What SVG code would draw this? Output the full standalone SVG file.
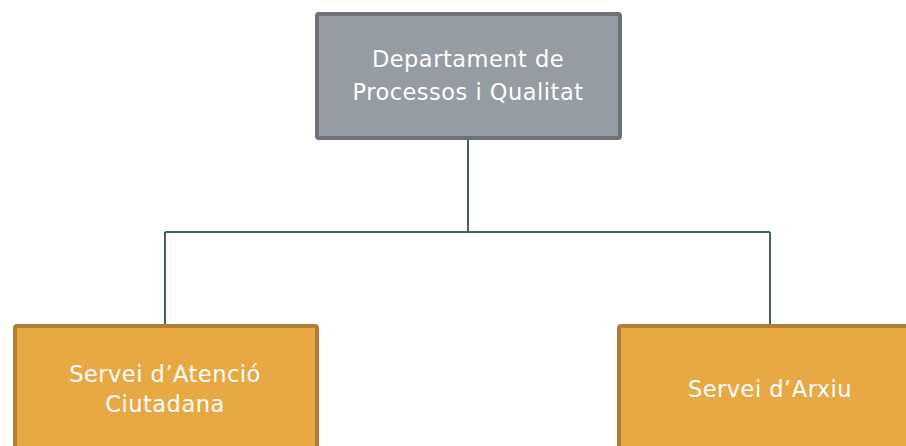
<svg xmlns="http://www.w3.org/2000/svg" width="906" height="446" viewBox="0 0 906 446">
<style>
.lbl{font-family:"DejaVu Sans",sans-serif;font-size:22.5px;letter-spacing:0.5px;fill:#ffffff;text-anchor:middle}
.conn{stroke:#3d6657;stroke-width:2;fill:none}
.top{fill:#969ca4;stroke:#6b7177;stroke-width:4}
.sub{fill:#e8a844;stroke:#b07e36;stroke-width:4}
</style>
<rect width="906" height="446" fill="#ffffff"/>
<g id="connectors">
<path class="conn" d="M468 139 V232 M165 232 H770 M165 232 V324 M770 232 V324"/>
</g>
<g id="node-dept">
<rect class="top" x="317" y="14" width="303" height="124" rx="2"/>
<text class="lbl" x="468" y="67">Departament de</text>
<text class="lbl" x="468" y="100">Processos i Qualitat</text>
</g>
<g id="node-atencio">
<rect class="sub" x="15" y="326" width="302" height="130" rx="2"/>
<text class="lbl" x="165" y="382">Servei d’Atenció</text>
<text class="lbl" x="165" y="412">Ciutadana</text>
</g>
<g id="node-arxiu">
<rect class="sub" x="619" y="326" width="302" height="130" rx="2"/>
<text class="lbl" x="770" y="397">Servei d’Arxiu</text>
</g>
</svg>
